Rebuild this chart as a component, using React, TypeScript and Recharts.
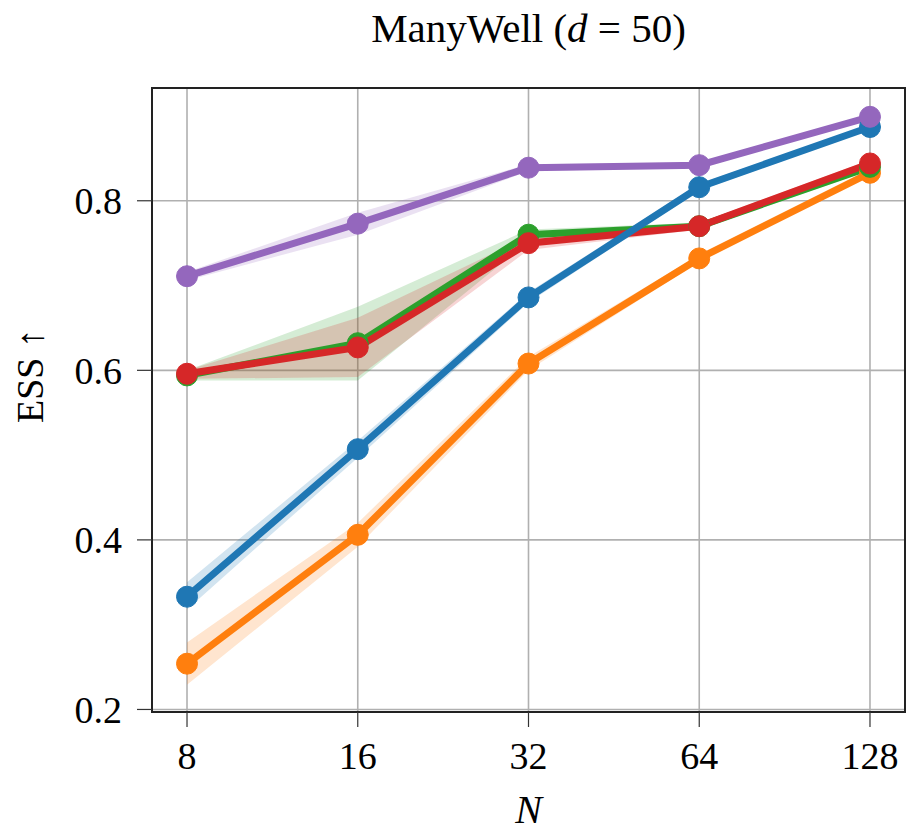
import {
  ComposedChart,
  Line,
  Area,
  XAxis,
  YAxis,
  CartesianGrid,
  ReferenceArea,
} from "recharts";

// ManyWell (d = 50): ESS vs number of samples N
const nValues = [8, 16, 32, 64, 128];

const blueMean = [0.333, 0.507, 0.686, 0.816, 0.887];
const blueLow = [0.318, 0.497, 0.68, 0.812, 0.884];
const blueHigh = [0.35, 0.517, 0.692, 0.82, 0.89];

const orangeMean = [0.254, 0.406, 0.608, 0.732, 0.833];
const orangeLow = [0.229, 0.392, 0.6, 0.728, 0.83];
const orangeHigh = [0.279, 0.42, 0.616, 0.736, 0.836];

const greenMean = [0.594, 0.632, 0.76, 0.77, 0.84];
const greenLow = [0.588, 0.588, 0.752, 0.766, 0.836];
const greenHigh = [0.6, 0.675, 0.766, 0.774, 0.844];

const redMean = [0.596, 0.627, 0.75, 0.77, 0.844];
const redLow = [0.59, 0.592, 0.742, 0.766, 0.84];
const redHigh = [0.6, 0.662, 0.758, 0.774, 0.848];

const purpleMean = [0.711, 0.773, 0.839, 0.842, 0.899];
const purpleLow = [0.706, 0.76, 0.835, 0.839, 0.896];
const purpleHigh = [0.716, 0.786, 0.843, 0.845, 0.902];

const yTicks = [0.2, 0.4, 0.6, 0.8];

const chartData = nValues.map((n, i) => ({
  n,
  blue: blueMean[i],
  blueBand: [blueLow[i], blueHigh[i]],
  orange: orangeMean[i],
  orangeBand: [orangeLow[i], orangeHigh[i]],
  green: greenMean[i],
  greenBand: [greenLow[i], greenHigh[i]],
  red: redMean[i],
  redBand: [redLow[i], redHigh[i]],
  purple: purpleMean[i],
  purpleBand: [purpleLow[i], purpleHigh[i]],
}));

// drawing order follows the reference (purple ends up on top)
const series = [
  { key: "orange", color: "#ff7f0e" },
  { key: "green", color: "#2ca02c" },
  { key: "red", color: "#d62728" },
  { key: "blue", color: "#1f77b4" },
  { key: "purple", color: "#9467bd" },
];

const xDomain = [6.94, 147.55];
const yDomain = [0.197, 0.933];
const font = "'Liberation Serif', 'DejaVu Serif', serif";

document.body.style.margin = "0";

const App = () => {
  return (
    <div style={{ position: "relative", width: 913, height: 834, fontFamily: font, background: "#fff" }}>
      <div
        style={{
          position: "absolute",
          left: 152,
          width: 753,
          top: 8,
          textAlign: "center",
          fontSize: 41,
          lineHeight: "41px",
          color: "#000",
        }}
      >
        ManyWell (<i>d</i> = 50)
      </div>
      <ComposedChart
        width={913}
        height={834}
        data={chartData}
        margin={{ top: 88, right: 8, bottom: 0, left: 0 }}
      >
        <CartesianGrid stroke="#b0b0b0" strokeWidth={1.6} />
        <XAxis
          dataKey="n"
          type="number"
          scale="log"
          domain={xDomain}
          allowDataOverflow
          ticks={nValues}
          height={122}
          tickSize={15}
          tickMargin={15}
          axisLine={false}
          tickLine={{ stroke: "#333", strokeWidth: 1.2 }}
          tick={{ fill: "#000", fontSize: 38, fontFamily: font }}
          label={{
            value: "N",
            position: "insideBottom",
            offset: 11,
            fill: "#000",
            fontSize: 40,
            fontFamily: font,
            fontStyle: "italic",
          }}
        />
        <YAxis
          type="number"
          domain={yDomain}
          allowDataOverflow
          ticks={yTicks}
          width={152}
          tickSize={15}
          tickMargin={15}
          axisLine={false}
          tickLine={{ stroke: "#333", strokeWidth: 1.2 }}
          tickFormatter={(v: number) => v.toFixed(1)}
          tick={{ fill: "#000", fontSize: 38, fontFamily: font }}
          label={{
            value: "ESS ↑",
            angle: -90,
            position: "center",
            dx: -46,
            dy: -24,
            fill: "#000",
            fontSize: 38,
            fontFamily: font,
          }}
        />
        {series.map((s) => (
          <Area
            key={`${s.key}-band`}
            dataKey={`${s.key}Band`}
            type="linear"
            stroke="none"
            fill={s.color}
            fillOpacity={0.2}
            dot={false}
            activeDot={false}
            isAnimationActive={false}
          />
        ))}
        {series.map((s) => (
          <Line
            key={s.key}
            dataKey={s.key}
            type="linear"
            stroke={s.color}
            strokeWidth={7}
            dot={{ r: 10.5, fill: s.color, stroke: s.color, strokeWidth: 1 }}
            activeDot={false}
            isAnimationActive={false}
          />
        ))}
        <ReferenceArea
          x1={xDomain[0]}
          x2={xDomain[1]}
          y1={yDomain[0]}
          y2={yDomain[1]}
          fill="none"
          stroke="#222"
          strokeWidth={2}
          ifOverflow="visible"
        />
      </ComposedChart>
    </div>
  );
};

export default App;
